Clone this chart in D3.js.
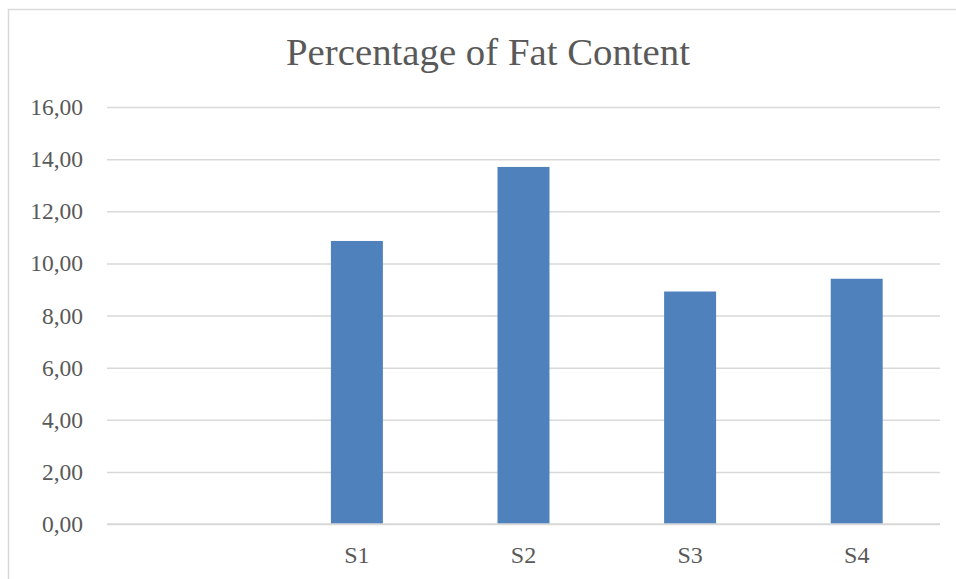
<!DOCTYPE html>
<html><head><meta charset="utf-8">
<script src="https://cdn.jsdelivr.net/npm/d3@7"></script>
<style>body{margin:0;background:#fff}svg{display:block}</style>
</head><body>
<svg id="c" width="956" height="579"></svg>
<script>
const categories = ["", "S1", "S2", "S3", "S4"];
const values = [null, 10.86, 13.70, 8.92, 9.41];
const yTicks = [0, 2, 4, 6, 8, 10, 12, 14, 16];
const title = "Percentage of Fat Content";

const svg = d3.select("#c");
const font = "'Liberation Serif', 'DejaVu Serif', serif";
const pLeft = 107, pRight = 940, pTop = 107, pBottom = 524;

svg.append("rect").attr("x", 8.5).attr("y", 9.5).attr("width", 1000).attr("height", 1000)
  .attr("fill", "#fff").attr("stroke", "#D9D9D9").attr("stroke-width", 1.5);

const x = d3.scaleBand().domain(categories).range([pLeft, pRight]).paddingInner(0.688).paddingOuter(0.344);
const y = d3.scaleLinear().domain([0, 16]).range([pBottom, pTop]);

const fmt = d => d.toFixed(2).replace(".", ",");

const yAxis = d3.axisLeft(y).tickValues(yTicks).tickFormat(fmt).tickSize(-(pRight - pLeft)).tickPadding(24);
const gy = svg.append("g").attr("transform", `translate(${pLeft},0)`).call(yAxis);
gy.select(".domain").remove();
gy.selectAll(".tick line").attr("stroke", "#D9D9D9").attr("stroke-width", 1.5);
gy.selectAll(".tick text").attr("fill", "#595959").style("font-family", font).style("font-size", "23.5px");

svg.append("g").selectAll("rect").data(categories.map((c, i) => ({c, v: values[i]})).filter(d => d.v != null))
  .join("rect")
  .attr("x", d => x(d.c)).attr("width", x.bandwidth())
  .attr("y", d => y(d.v)).attr("height", d => y(0) - y(d.v))
  .attr("fill", "#4F81BD");

const xAxis = d3.axisBottom(x).tickSize(0).tickPadding(22);
const gx = svg.append("g").attr("transform", `translate(0,${pBottom})`).call(xAxis);
gx.select(".domain").remove();
gx.selectAll(".tick text").attr("fill", "#595959").style("font-family", font).style("font-size", "24px");

svg.append("line").attr("x1", pLeft).attr("x2", pRight).attr("y1", y(0)).attr("y2", y(0))
  .attr("stroke", "#D9D9D9").attr("stroke-width", 1.5);

svg.append("text").attr("x", 488).attr("y", 65).attr("text-anchor", "middle")
  .attr("fill", "#595959").style("font-family", font).style("font-size", "38px")
  .attr("textLength", 404).attr("lengthAdjust", "spacingAndGlyphs")
  .text(title);
</script>
</body></html>
